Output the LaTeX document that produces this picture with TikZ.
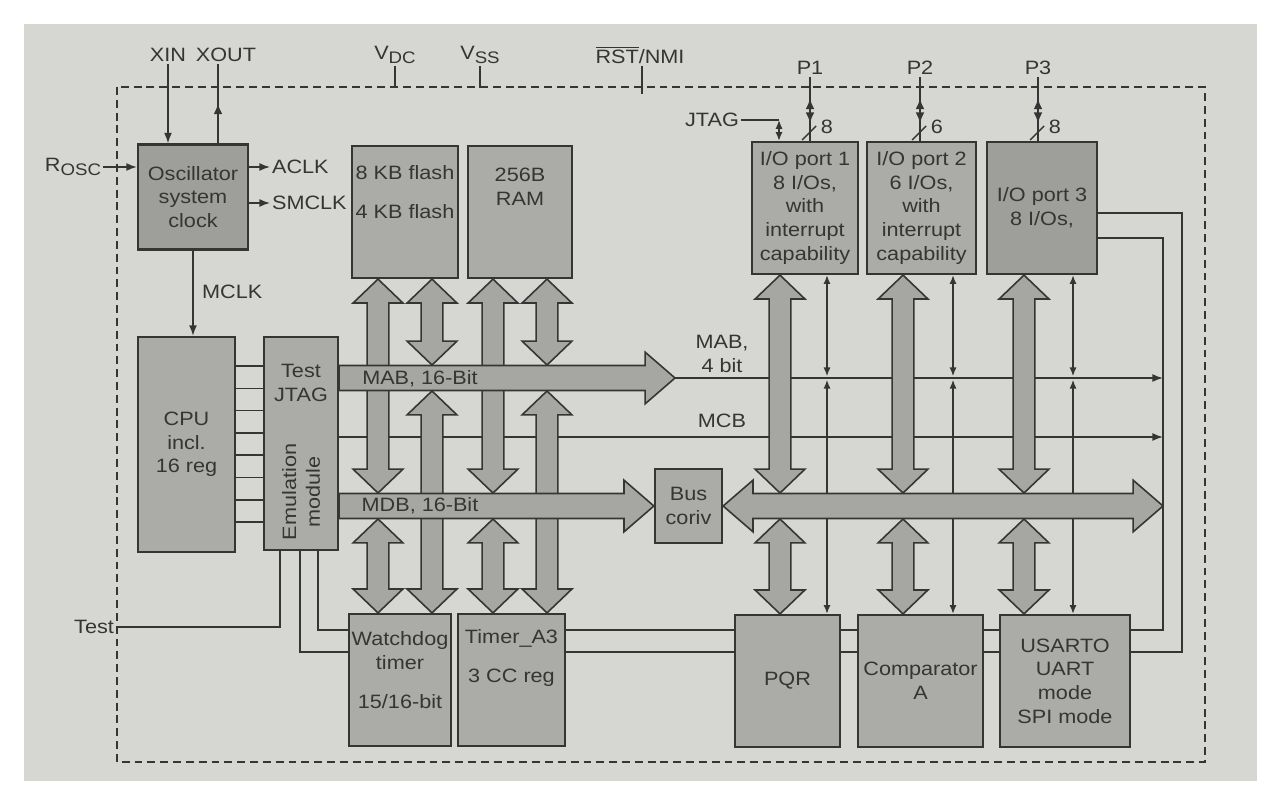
\documentclass[tikz,border=0pt]{standalone}
\usepackage{fontspec}
\setmainfont{Liberation Sans}[FakeStretch=1.12]
\usetikzlibrary{arrows.meta,calc,decorations.markings}

\definecolor{paper}{HTML}{D6D6D2}
\definecolor{blk}{HTML}{ABABA7}
\definecolor{blkdark}{HTML}{9E9E9A}
\definecolor{busgray}{HTML}{A6A6A2}
\definecolor{ink}{HTML}{353535}

% fat double-headed vertical bus arrow, #1 = top end, #2 = bottom end
\newcommand{\fatud}[2]{%
  \draw[fatbus] let \p1=(#1), \p2=(#2) in
    (\x1,\y1) -- (\x1+14.2pt,\y1-13.6pt) -- (\x1+6.2pt,\y1-13.6pt)
    -- (\x1+6.2pt,\y2+13.6pt) -- (\x1+14.2pt,\y2+13.6pt) -- (\x1,\y2)
    -- (\x1-14.2pt,\y2+13.6pt) -- (\x1-6.2pt,\y2+13.6pt)
    -- (\x1-6.2pt,\y1-13.6pt) -- (\x1-14.2pt,\y1-13.6pt) -- cycle;}
% fat single-headed bus to the right, #1 = tail, #2 = tip
\newcommand{\fatr}[2]{%
  \draw[fatbus] let \p1=(#1), \p2=(#2) in
    (\x1,\y2+7.1pt) -- (\x2-17pt,\y2+7.1pt) -- (\x2-17pt,\y2+14.7pt) -- (\x2,\y2)
    -- (\x2-17pt,\y2-14.7pt) -- (\x2-17pt,\y2-7.1pt) -- (\x1,\y2-7.1pt) -- cycle;}
% fat double-headed horizontal bus, #1 = left tip, #2 = right tip
\newcommand{\fatlr}[2]{%
  \draw[fatbus] let \p1=(#1), \p2=(#2) in
    (\x1,\y1) -- (\x1+17pt,\y1+14.7pt) -- (\x1+17pt,\y1+7.1pt) -- (\x2-17pt,\y1+7.1pt)
    -- (\x2-17pt,\y1+14.7pt) -- (\x2,\y1) -- (\x2-17pt,\y1-14.7pt) -- (\x2-17pt,\y1-7.1pt)
    -- (\x1+17pt,\y1-7.1pt) -- (\x1+17pt,\y1-14.7pt) -- cycle;}

\begin{document}
\begin{tikzpicture}[
        x=0.02cm, y=-0.02cm,
        font=\fontsize{11}{13.5}\selectfont,
        box/.style={draw=ink, line width=1.3pt, fill=blk, text=ink, align=center, inner sep=0pt},
        txt/.style={text=ink, align=center, inner sep=0pt},
        pin/.style={text=ink, inner sep=1pt},
        ln/.style={draw=ink, line width=0.85pt},
        arr/.style={ln, -{Latex[length=6pt,width=4.5pt]}},
        dar/.style={ln, {Latex[length=5pt,width=4pt]}-{Latex[length=5pt,width=4pt]}},
        fatbus/.style={draw=ink, line width=0.9pt, fill=busgray, line join=miter},
        tipat/.style={postaction={decorate, decoration={markings,
            mark=at position #1 with {\arrow{Latex[length=6pt,width=5pt]}}}}},
        tiprev/.style={postaction={decorate, decoration={markings,
            mark=at position #1 with {\arrowreversed{Latex[length=6pt,width=5pt]}}}}}
    ]
    \useasboundingbox (0,0) rectangle (1270,797);
    \fill[white] (0,0) rectangle (1270,797);
    \fill[paper] (24,24) rectangle (1257,781);
    \draw[ink, line width=1.1pt, dash pattern=on 4.5pt off 2.8pt] (117,87) rectangle (1205,762);

    % bus positions
    \coordinate (mab) at (0,378);
    \coordinate (mabT) at (0,365);
    \coordinate (mabB) at (0,391);
    \coordinate (mdb) at (0,506);
    \coordinate (mdbT) at (0,493);
    \coordinate (mdbB) at (0,519);
    \coordinate (mcb) at (0,437);
    \coordinate (mabtip) at (675,378);
    \coordinate (rin) at (1163,0);
    \coordinate (rout) at (1182,0);
    \coordinate (la) at (0,630);
    \coordinate (lb) at (0,652);
    \coordinate (ia) at (0,213);
    \coordinate (ib) at (0,238);
    \coordinate (cA) at (378,0);
    \coordinate (cB) at (432,0);
    \coordinate (cC) at (493,0);
    \coordinate (cD) at (547,0);
    \coordinate (c1) at (780,0);
    \coordinate (c2) at (903,0);
    \coordinate (c3) at (1024,0);
    \coordinate (t1) at (827,0);
    \coordinate (t2) at (953,0);
    \coordinate (t3) at (1073,0);
    \coordinate (e1) at (280,0);
    \coordinate (e2) at (300,0);
    \coordinate (e3) at (318,0);
    \coordinate (xo) at (218,0);
    \coordinate (jc) at (779,120);

    % blocks
    \node[box, fill=blkdark, minimum width=2.2cm, minimum height=2.1cm] (osc) at (193,197) {Oscillator\\system\\clock};
    \node[box, minimum width=1.94cm, minimum height=4.3cm] (cpu) at (186.5,444.5) {CPU\\incl.\\16 reg};
    \node[box, minimum width=1.48cm, minimum height=4.26cm] (emu) at (301,443.5) {};
    \node[box, minimum width=2.12cm, minimum height=2.64cm] (flash) at (405,212) {};
    \node[box, minimum width=2.08cm, minimum height=2.64cm] (ram) at (520,212) {};
    \node[box, minimum width=2.12cm, minimum height=2.64cm] (io1) at (805,208) {I/O port 1\\8 I/Os,\\with\\interrupt\\capability};
    \node[box, minimum width=2.18cm, minimum height=2.64cm] (io2) at (921.5,208) {I/O port 2\\6 I/Os,\\with\\interrupt\\capability};
    \node[box, fill=blkdark, minimum width=2.2cm, minimum height=2.64cm] (io3) at (1042,208) {I/O port 3\\8 I/Os,};
    \node[box, minimum width=2.04cm, minimum height=2.64cm] (wd) at (400,680) {};
    \node[box, minimum width=2.14cm, minimum height=2.64cm] (timer) at (511.5,680) {};
    \node[box, minimum width=2.1cm, minimum height=2.64cm] (pqr) at (787.5,681) {PQR};
    \node[box, minimum width=2.5cm, minimum height=2.64cm] (comp) at (920.5,681) {Comparator\\A};
    \node[box, minimum width=2.6cm, minimum height=2.64cm] (usart) at (1065,681) {USARTO\\UART\\mode\\SPI mode};

    \node[txt] (emutop) at (301,383) {Test\\JTAG};
    \node[txt, rotate=90] (emubot) at (301,492) {Emulation\\module};
    \node[txt] (flashtxt) at (405,192) {8 KB flash\\[9pt]4 KB flash};
    \node[txt] (ramtxt) at (520,187) {256B\\RAM};
    \node[txt] (wdtxt) at (400,670) {Watchdog\\timer\\[9pt]15/16-bit};
    \node[txt] (timertxt) at (511.5,658) {Timer\_A3\\[9pt]3 CC reg};

    % pins and labels
    \node[pin] (xin) at (168,55) {XIN};
    \node[pin] (xout) at (226,55) {XOUT};
    \node[pin] (vdc) at (395,55) {V\raisebox{-0.45ex}{\fontsize{9.5}{10}\selectfont DC}};
    \node[pin] (vss) at (480,55) {V\raisebox{-0.45ex}{\fontsize{9.5}{10}\selectfont SS}};
    \node[pin] (rst) at (640,55) {$\overline{\mbox{RST}}$/NMI};
    \node[pin] (p1) at (810,68) {P1};
    \node[pin] (p2) at (920,68) {P2};
    \node[pin] (p3) at (1038,68) {P3};
    \node[pin] (jtag) at (712,120) {JTAG};
    \node[pin] (rosc) at (73,167) {R\raisebox{-0.45ex}{\fontsize{9.5}{10}\selectfont OSC}};
    \node[pin, anchor=west] (aclk) at (270,167) {ACLK};
    \node[pin, anchor=west] (smclk) at (270,203) {SMCLK};
    \node[pin, anchor=west] (mclk) at (200,292) {MCLK};
    \node[pin, anchor=east] (test) at (116,627) {Test};
    \node[txt] (mablbl) at (722,354) {MAB,\\4 bit};
    \node[txt] (mcblbl) at (722,421) {MCB};

    % clock and pins
    \draw[arr] (xin.south) -- (osc.north -| xin.south);
    \draw[ln, tipat=0.5] (osc.north -| xo) -- (xo |- xout.south);
    \draw[arr] (rosc.east) -- (osc.west |- rosc.east);
    \draw[arr] (osc.east |- aclk.west) -- (aclk.west);
    \draw[arr] (osc.east |- smclk.west) -- (smclk.west);
    \draw[arr] (osc.south) -- (cpu.north -| osc.south);
    \draw[ln] (vdc.south) -- ++(0,22);
    \draw[ln] (vss.south) -- ++(0,22);
    \draw[ln] ([xshift=1pt]rst.south) -- ++(0,28);
    \draw[ln] (jtag.east) -- (jc);
    \draw[dar] (jc) -- (io1.north -| jc);
    \foreach \io/\p/\n in {io1/p1/8, io2/p2/6, io3/p3/8}{
        \draw[ln, tipat=0.66, tiprev=0.28] (\io.north -| \p.south) -- (\p.south);
        \draw[ln] ($(\io.north -| \p.south)+(-4.5pt,0.5pt)$) -- ++(8pt,8pt);
        \node[pin, anchor=west] (\p n) at ($(\io.north -| \p.south)+(5pt,8pt)$) {\n};
    }

    % cpu to emulation module
    \foreach \i in {0,...,7}
        \draw[ln] (cpu.east |- 0,366+\i*22.3) -- (emu.west |- 0,366+\i*22.3);

    % emulation, test and peripheral links
    \draw[ln] (emu.south -| e1) |- (test.east);
    \draw[ln] (emu.south -| e2) |- (wd.west |- lb);
    \draw[ln] (emu.south -| e3) |- (wd.west |- la);
    \foreach \l in {la, lb}{
        \draw[ln] (timer.east |- \l) -- (pqr.west |- \l);
        \draw[ln] (pqr.east |- \l) -- (comp.west |- \l);
        \draw[ln] (comp.east |- \l) -- (usart.west |- \l);
    }
    \draw[ln] (usart.east |- la) -| (rin |- ib) -- (io3.east |- ib);
    \draw[ln] (usart.east |- lb) -| (rout |- ia) -- (io3.east |- ia);

    % thin buses
    \draw[arr] (mabtip) -- (rin |- mab);
    \draw[arr] (emu.east |- mcb) -- (rin |- mcb);
    \foreach \t/\a/\b in {t1/io1/pqr, t2/io2/comp, t3/io3/usart}{
        \draw[dar] (\a.south -| \t) -- ([yshift=1pt]mab -| \t);
        \draw[dar] ([yshift=-1pt]mab -| \t) -- (\b.north -| \t);
    }

    % fat vertical buses
    \fatud{flash.south -| cA}{mdbT -| cA}
    \fatud{flash.south -| cB}{mabT -| cB}
    \fatud{ram.south -| cC}{mdbT -| cC}
    \fatud{ram.south -| cD}{mabT -| cD}
    \fatud{mdbB -| cA}{wd.north -| cA}
    \fatud{mabB -| cB}{wd.north -| cB}
    \fatud{mdbB -| cC}{timer.north -| cC}
    \fatud{mabB -| cD}{timer.north -| cD}
    \foreach \c/\a/\b in {c1/io1/pqr, c2/io2/comp, c3/io3/usart}{
        \fatud{\a.south -| \c}{mdbT -| \c}
        \fatud{mdbB -| \c}{\b.north -| \c}
    }

    % main buses
    \fatr{emu.east |- mab}{mabtip}
    \node[box, minimum width=1.34cm, minimum height=1.48cm] (bd) at (688.5,506) {Bus\\coriv};
    \fatr{emu.east |- mdb}{bd.west}
    \fatlr{bd.east}{rin |- mdb}
    \node[txt] (mabtxt) at (420,379) {MAB, 16-Bit};
    \node[txt] (mdbtxt) at (420,506) {MDB, 16-Bit};
\end{tikzpicture}
\end{document}
